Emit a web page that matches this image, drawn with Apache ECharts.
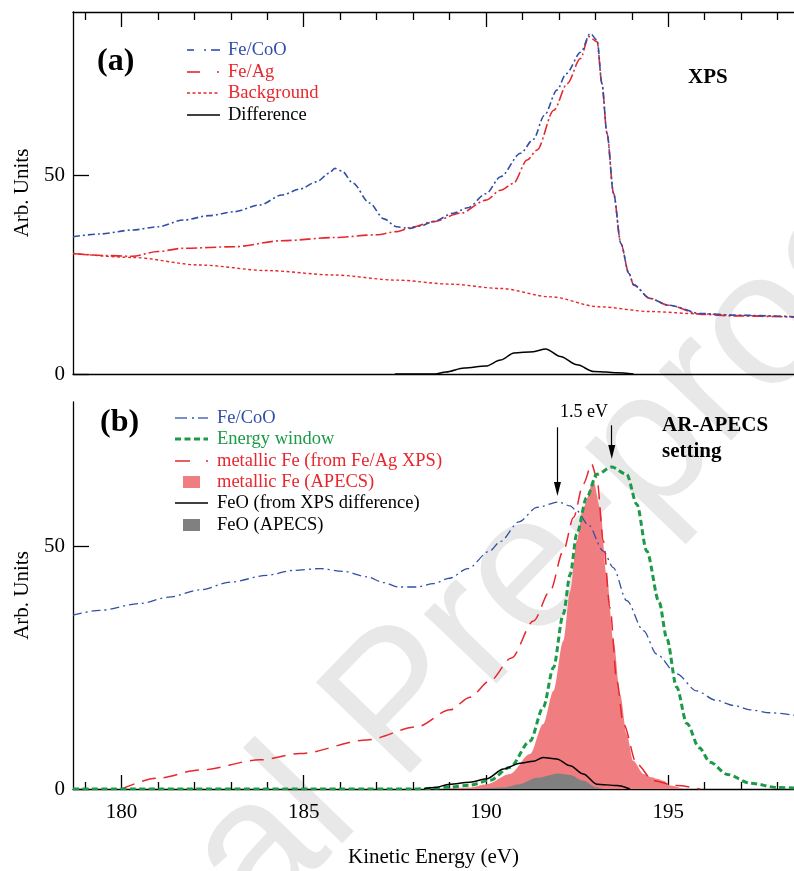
<!DOCTYPE html>
<html>
<head>
<meta charset="utf-8">
<title>Fe/CoO XPS and AR-APECS</title>
<script src="https://cdn.jsdelivr.net/npm/echarts@6/dist/echarts.min.js"></script>
<style>
  html, body { margin: 0; padding: 0; background: #fff; }
  #chart { width: 794px; height: 871px; }
</style>
</head>
<body>
<div id="chart"></div>
<script>
// kinetic energy axis (eV)
const xMin = 178.67;
const xMax = 198.45;
const majorTicks = [180, 185, 190, 195];
const minorTicks = [179, 181, 182, 183, 184, 186, 187, 188, 189, 191, 192, 193, 194, 196, 197, 198];
const yTicks = [0, 50];

// (a) XPS
const coOEnergy = [178.67, 179.4, 180.3, 181.0, 181.7, 182.4, 183.1, 183.8, 184.4, 184.9, 185.35, 185.7, 185.85, 186.05, 186.35, 186.8, 187.2, 187.55, 187.9, 188.2, 188.55, 189.1, 189.5, 190.0, 190.4, 190.95, 191.3, 191.6, 191.95, 192.2, 192.6, 192.86, 193.05, 193.18, 193.32, 193.5, 193.7, 193.92, 194.05, 194.5, 195.0, 195.9, 196.8, 198.45];
const coOXps = [34.5, 35.2, 36.2, 37.0, 38.7, 39.8, 40.8, 42.5, 45.0, 46.5, 48.3, 50.5, 51.7, 51.0, 48.0, 43.0, 39.0, 37.0, 36.6, 37.2, 38.3, 40.4, 41.8, 45.3, 49.6, 55.5, 59.0, 65.0, 71.4, 75.5, 80.9, 85.6, 83.9, 73.0, 60.5, 45.4, 32.8, 25.3, 22.4, 19.0, 17.3, 15.2, 14.8, 14.4];

const agEnergy = [178.67, 179.5, 180.3, 181.0, 181.7, 183.1, 184.4, 185.85, 187.0, 187.55, 188.0, 188.55, 189.3, 190.0, 190.4, 190.75, 191.13, 191.4, 191.86, 192.23, 192.59, 192.82, 193.05, 193.18, 193.32, 193.5, 193.7, 193.92, 194.05, 194.5, 195.0, 195.9, 196.8, 198.45];
const agXps = [30.3, 29.8, 29.6, 30.8, 31.6, 32.0, 33.5, 34.3, 35.0, 35.8, 37.0, 38.3, 40.4, 43.7, 46.2, 47.9, 53.8, 56.3, 66.3, 73.0, 79.3, 84.8, 83.5, 73.0, 60.5, 45.4, 32.8, 25.3, 22.4, 19.0, 17.3, 15.0, 14.6, 14.3];

const bgEnergy = [178.67, 180.3, 182.15, 184.0, 185.8, 187.55, 189.0, 190.4, 191.77, 193.1, 194.5, 195.9, 197.0, 198.45];
const bgXps = [30.3, 29.3, 27.4, 26.0, 24.9, 23.6, 22.6, 21.5, 19.4, 16.9, 15.7, 15.1, 14.7, 14.4];

const diffEnergy = [187.5, 188.6, 188.9, 189.4, 190.0, 190.4, 190.77, 191.3, 191.64, 192.04, 192.5, 192.96, 193.3, 193.6, 194.05];
const diffXps = [0, 0, 0.5, 1.5, 2.0, 3.5, 5.3, 5.6, 6.3, 4.4, 2.3, 0.6, 0.5, 0.3, 0];

// (b) AR-APECS
const coOApecsEnergy = [178.67, 179.4, 180.5, 181.3, 182.15, 183.0, 183.98, 184.7, 185.45, 186.1, 186.73, 187.2, 187.6, 188.1, 188.56, 189.0, 189.5, 190.1, 190.4, 190.9, 191.4, 191.99, 192.31, 192.49, 192.8, 193.22, 193.49, 193.86, 194.32, 194.68, 195.23, 195.78, 196.3, 196.8, 197.25, 197.8, 198.45];
const coOApecs = [35.8, 36.8, 38.2, 39.5, 41.0, 42.6, 44.0, 45.0, 45.4, 44.8, 43.7, 42.5, 41.6, 41.6, 42.3, 43.4, 45.4, 49.0, 51.0, 55.0, 58.0, 59.1, 58.3, 57.3, 54.5, 49.0, 45.6, 38.8, 32.6, 27.8, 23.7, 20.2, 18.3, 17.2, 16.3, 15.7, 15.2];

const windowEnergy = [178.67, 188.0, 188.6, 189.0, 189.56, 190.11, 190.66, 191.21, 191.57, 191.85, 192.12, 192.31, 192.49, 192.76, 193.04, 193.45, 193.86, 194.14, 194.41, 194.75, 194.96, 195.23, 195.51, 195.85, 196.15, 196.62, 197.25, 198.0, 198.45];
const windowValue = [0, 0, 0.2, 0.4, 0.8, 1.8, 4.5, 9.9, 16.8, 25.0, 36.0, 44.2, 52.5, 60.0, 64.8, 66.3, 64.8, 58.6, 49.0, 38.5, 31.0, 21.0, 13.5, 8.5, 5.5, 3.0, 1.2, 0.3, 0.2];

const metalEnergy = [180.0, 180.96, 182.15, 183.8, 184.9, 186.73, 188.1, 189.02, 189.56, 190.11, 190.7, 191.3, 191.76, 192.12, 192.4, 192.67, 192.9, 193.04, 193.22, 193.4, 193.59, 193.77, 194.14, 194.59, 195.23, 195.87];
const metalXps = [0, 2.2, 3.9, 6.0, 7.3, 10.1, 12.8, 16.3, 18.9, 22.3, 27.0, 34.6, 40.8, 49.0, 55.9, 62.8, 66.9, 64.1, 51.1, 37.4, 22.3, 13.4, 5.1, 1.7, 0.7, 0];

const metalApecsEnergy = [188.8, 189.56, 190.02, 190.66, 191.21, 191.57, 191.85, 192.12, 192.31, 192.49, 192.67, 192.95, 193.13, 193.31, 193.5, 193.68, 193.86, 194.04, 194.32, 194.55, 194.68, 194.87, 195.05, 195.4];
const metalApecs = [0, 0.3, 1.0, 3.1, 7.2, 13.4, 20.2, 30.5, 40.8, 51.1, 58.0, 63.4, 58.0, 44.2, 30.5, 19.5, 11.3, 5.8, 3.1, 2.4, 2.1, 1.7, 0.7, 0];

const feoEnergy = [188.3, 188.6, 189.0, 189.56, 190.02, 190.48, 190.93, 191.3, 191.57, 191.94, 192.31, 192.67, 193.04, 193.59, 193.95];
const feoXps = [0, 0.3, 1.0, 1.4, 2.1, 4.1, 5.3, 5.7, 6.5, 6.2, 4.8, 3.1, 1.0, 0.7, 0];

const feoApecsEnergy = [189.8, 190.48, 190.93, 191.39, 191.99, 192.31, 192.67, 193.04, 193.22];
const feoApecs = [0, 0.3, 1.0, 2.3, 3.2, 2.9, 1.7, 0.3, 0];

// arrows marking the 1.5 eV shift
const arrowEnergy = [191.96, 193.45];
const arrowFrom = [74.5, 74.9];
const arrowTo = [61.8, 69.4];

const SERIF = '"Liberation Serif", "Times New Roman", serif';
const BLUE = '#3050a8';
const RED = '#e8262d';
const GREEN = '#1b9a48';
const PINK = '#f07d80';
const GREY = '#808080';

function pairs(xs, ys) {
  return xs.map((x, i) => [x, ys[i]]);
}

function xAxis(gridIndex, position, opts) {
  return Object.assign({
    type: 'value',
    gridIndex: gridIndex,
    position: position,
    min: xMin,
    max: xMax,
    splitLine: { show: false },
    axisLine: { show: false, onZero: false, lineStyle: { color: '#000', width: 1.3 } },
    axisTick: { show: false },
    axisLabel: { show: false },
  }, opts);
}

function ticks(values, length) {
  return { show: true, inside: true, length: length, customValues: values, lineStyle: { color: '#000', width: 1.3 } };
}

function yAxis(gridIndex, max) {
  return {
    type: 'value',
    gridIndex: gridIndex,
    min: 0,
    max: max,
    name: 'Arb. Units',
    nameLocation: 'middle',
    nameGap: 36,
    nameTextStyle: { fontFamily: SERIF, fontSize: 21, color: '#000' },
    splitLine: { show: false },
    axisLine: { show: true, onZero: false, lineStyle: { color: '#000', width: 1.3 } },
    axisTick: ticks(yTicks, 16),
    axisLabel: { customValues: yTicks, margin: 8, fontFamily: SERIF, fontSize: 21, color: '#000' },
  };
}

function line(name, xAxisIndex, xs, ys, color, type, width, extra) {
  return Object.assign({
    name: name,
    type: 'line',
    xAxisIndex: xAxisIndex,
    yAxisIndex: xAxisIndex < 3 ? 0 : 1,
    data: pairs(xs, ys),
    showSymbol: false,
    smooth: 0.3,
    smoothMonotone: 'x',
    lineStyle: { color: color, type: type, width: width },
    itemStyle: { color: color },
  }, extra || {});
}

function label(text, x, y, font, color) {
  return { type: 'text', x: x, y: y, style: { text: text, font: font, fill: color || '#000', verticalAlign: 'middle' } };
}

function seg(x1, x2, y, color, width, dash) {
  return { type: 'line', shape: { x1: x1, y1: y, x2: x2, y2: y }, style: { stroke: color, lineWidth: width, lineDash: dash || null } };
}

function box(x, y, color) {
  return { type: 'rect', shape: { x: x, y: y - 6, width: 17, height: 12 }, style: { fill: color } };
}

const legendFont = '18.5px ' + SERIF;

const graphics = [
  // watermark
  {
    type: 'text', x: -108, y: 1234, rotation: 46 * Math.PI / 180, z: -10,
    style: { text: 'Journal Pre-proof', font: '190px "Liberation Sans", Arial, sans-serif', fill: '#e8e8e8', align: 'left', verticalAlign: 'middle' },
  },
  label('(a)', 97, 62, 'bold 32px ' + SERIF),
  label('XPS', 688, 78, 'bold 21px ' + SERIF),
  label('(b)', 100, 423, 'bold 32px ' + SERIF),
  label('AR-APECS', 662, 426, 'bold 21px ' + SERIF),
  label('setting', 662, 452, 'bold 21px ' + SERIF),
  label('1.5 eV', 560, 412, '18px ' + SERIF),

  // legend (a)
  seg(187, 194, 50, BLUE, 1.6), seg(204, 206, 50, BLUE, 1.6), seg(211, 220, 50, BLUE, 1.6),
  label('Fe/CoO', 228, 50, legendFont, BLUE),
  seg(187, 200, 72, RED, 1.6), seg(217, 219, 72, RED, 1.6),
  label('Fe/Ag', 228, 72, legendFont, RED),
  seg(187, 220, 93, RED, 1.4, [3, 2.5]),
  label('Background', 228, 93, legendFont, RED),
  seg(187, 220, 115, '#000', 1.5),
  label('Difference', 228, 115, legendFont, '#000'),

  // legend (b)
  seg(175, 187, 418, BLUE, 1.3), seg(192, 194, 418, BLUE, 1.3), seg(198, 208, 418, BLUE, 1.3),
  label('Fe/CoO', 217, 418, legendFont, BLUE),
  seg(175, 208, 439, GREEN, 3, [6, 3.5]),
  label('Energy window', 217, 439, legendFont, GREEN),
  seg(175, 190, 461, RED, 1.5), seg(206, 208, 461, RED, 1.5),
  label('metallic Fe (from Fe/Ag XPS)', 217, 461, legendFont, RED),
  box(183, 482, PINK),
  label('metallic Fe (APECS)', 217, 482, legendFont, RED),
  seg(175, 208, 503, '#000', 1.5),
  label('FeO (from XPS difference)', 217, 503, legendFont, '#000'),
  box(183, 525, GREY),
  label('FeO (APECS)', 217, 525, legendFont, '#000'),
];

const chart = echarts.init(document.getElementById('chart'), null, { renderer: 'canvas' });

chart.setOption({
  animation: false,
  backgroundColor: '#fff',
  grid: [
    { left: 73, top: 12, right: 0, height: 362 },
    { left: 73, top: 402, right: 0, height: 387 },
  ],
  xAxis: [
    xAxis(0, 'top', { axisLine: { show: true, onZero: false, lineStyle: { color: '#000', width: 1.3 } }, axisTick: ticks(majorTicks, 15) }),
    xAxis(0, 'top', { axisTick: ticks(minorTicks, 8) }),
    xAxis(0, 'bottom', { axisLine: { show: true, onZero: false, lineStyle: { color: '#000', width: 1.3 } } }),
    xAxis(1, 'bottom', {
      axisLine: { show: true, onZero: false, lineStyle: { color: '#000', width: 1.3 } },
      axisTick: ticks(majorTicks, 14),
      axisLabel: { show: true, customValues: majorTicks, margin: 13, fontFamily: SERIF, fontSize: 21, color: '#000' },
      name: 'Kinetic Energy (eV)',
      nameLocation: 'middle',
      nameGap: 58,
      nameTextStyle: { fontFamily: SERIF, fontSize: 21, color: '#000' },
    }),
    xAxis(1, 'bottom', { axisTick: ticks(minorTicks, 7) }),
  ],
  yAxis: [yAxis(0, 91), yAxis(1, 79.7)],
  graphic: graphics,
  series: [
    line('Background', 0, bgEnergy, bgXps, RED, [3, 2.5], 1.4),
    line('Fe/Ag', 0, agEnergy, agXps, RED, [11, 3, 2, 3], 1.6),
    line('Fe/CoO', 0, coOEnergy, coOXps, BLUE, [7, 3, 2, 3], 1.6),
    line('Difference', 0, diffEnergy, diffXps, '#000', 'solid', 1.5),

    line('metallic Fe (APECS)', 3, metalApecsEnergy, metalApecs, PINK, 'solid', 0, { areaStyle: { color: PINK, opacity: 1 } }),
    line('FeO (APECS)', 3, feoApecsEnergy, feoApecs, GREY, 'solid', 0, { areaStyle: { color: GREY, opacity: 1 } }),
    line('Fe/CoO APECS', 3, coOApecsEnergy, coOApecs, BLUE, [9, 4, 2, 4], 1.3),
    line('metallic Fe (from Fe/Ag XPS)', 3, metalEnergy, metalXps, RED, [14, 8], 1.5),
    line('Energy window', 3, windowEnergy, windowValue, GREEN, [6, 3.5], 3, {
      markLine: {
        silent: true,
        symbol: ['none', 'triangle'],
        symbolSize: [7, 14],
        label: { show: false },
        lineStyle: { color: '#000', width: 1.2, type: 'solid' },
        data: arrowEnergy.map((x, i) => [{ coord: [x, arrowFrom[i]] }, { coord: [x, arrowTo[i]] }]),
      },
    }),
    line('FeO (from XPS difference)', 3, feoEnergy, feoXps, '#000', 'solid', 1.5),
  ],
});
</script>
</body>
</html>
